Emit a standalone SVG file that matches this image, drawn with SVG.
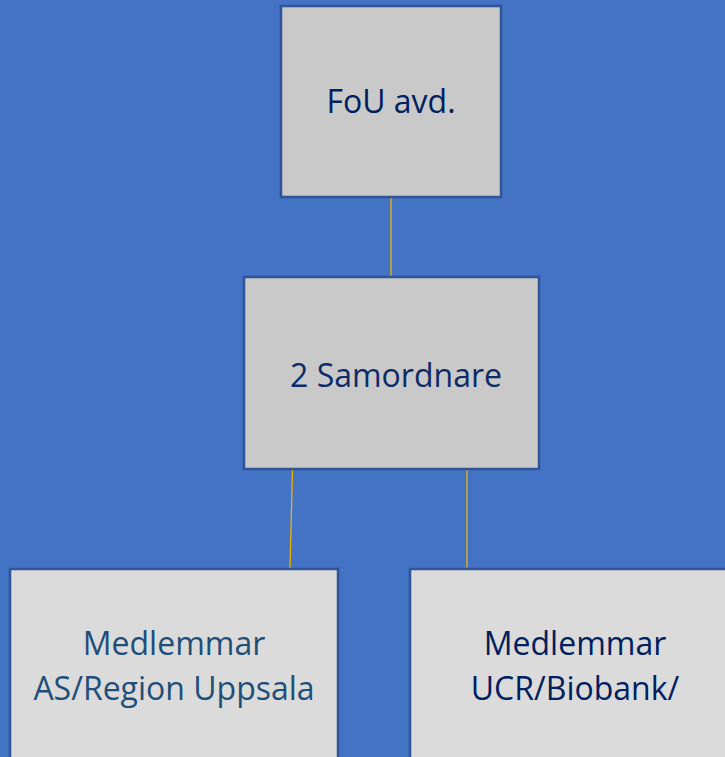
<svg xmlns="http://www.w3.org/2000/svg" width="725" height="757" viewBox="0 0 725 757">
<style>
.box{stroke:#2F5597;stroke-width:2.5}
.t{font-family:"Open Sans","Noto Sans","Liberation Sans",sans-serif;font-size:32px;text-anchor:middle}
.c{stroke:#E8B400;stroke-width:1.3;fill:none}
</style>
<rect x="0" y="0" width="725" height="757" fill="#4472C4"/>
<g id="connectors">
<line class="c" x1="391" y1="197" x2="391" y2="277"/>
<line class="c" x1="292.5" y1="469" x2="290" y2="569"/>
<line class="c" x1="467" y1="469" x2="467" y2="569"/>
</g>
<g id="fou">
<rect class="box" x="281" y="6" width="220" height="191" fill="#C9C9C9"/>
<text class="t" x="391" y="113" fill="#002060">FoU avd.</text>
</g>
<g id="samordnare">
<rect class="box" x="244" y="277" width="295" height="192" fill="#C9C9C9"/>
<text class="t" x="396" y="387" fill="#0D2B66">2 Samordnare</text>
</g>
<g id="medlemmar-as">
<rect class="box" x="10" y="569" width="328" height="200" fill="#DBDBDB"/>
<text class="t" x="174" y="655" fill="#1F4E79">Medlemmar</text>
<text class="t" x="174" y="700" fill="#1F4E79">AS/Region Uppsala</text>
</g>
<g id="medlemmar-ucr">
<rect class="box" x="410" y="569" width="330" height="200" fill="#DBDBDB"/>
<text class="t" x="575" y="655" fill="#002060">Medlemmar</text>
<text class="t" x="575" y="700" fill="#002060">UCR/Biobank/</text>
</g>
</svg>
